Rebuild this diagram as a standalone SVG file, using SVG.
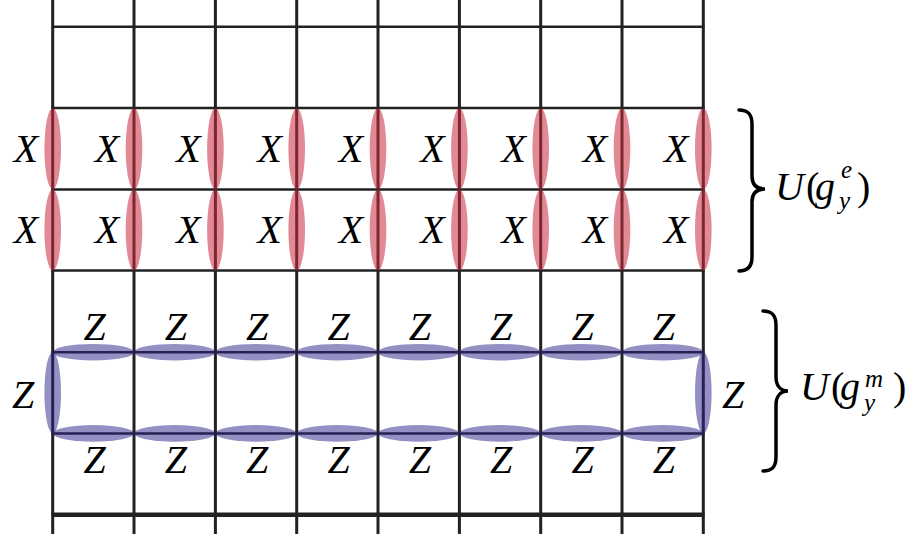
<svg xmlns="http://www.w3.org/2000/svg" width="909" height="539" viewBox="0 0 909 539">
<style>
.v{stroke:#222;stroke-width:3;fill:none}
.h{stroke:#222;stroke-width:2.5;fill:none}
.r{fill:#c8283c;fill-opacity:0.55}
.b{fill:#2a2288;fill-opacity:0.5}
.t{font-family:"Liberation Serif","Times New Roman",serif;font-style:italic;font-size:40px;fill:#000;text-anchor:middle}
.u{font-family:"Liberation Serif","Times New Roman",serif;font-size:40px;fill:#000}
.s{font-family:"Liberation Serif","Times New Roman",serif;font-style:italic;font-size:25px;fill:#000}
.brace{stroke:#000;stroke-width:3.5;fill:none;stroke-linecap:round}
</style>
<rect width="909" height="539" fill="#fff"/>
<g id="grid">
<path class="v" d="M52.7,0V534M134,0V534M215.4,0V534M296.7,0V534M378,0V534M459.4,0V534M540.7,0V534M622,0V534M703.3,0V534"/>
<path class="h" d="M51.5,26.7H704.5M51.5,108.1H704.5M51.5,189.4H704.5M51.5,270.4H704.5M51.5,352.2H704.5M51.5,433.4H704.5"/>
<path class="h" style="stroke-width:4.5" d="M51.5,514.8H704.5"/>
</g>
<g id="x-ops">
<ellipse class="r" cx="52.7" cy="148.8" rx="8.3" ry="40.6"/><ellipse class="r" cx="52.7" cy="229.9" rx="8.3" ry="40.6"/>
<ellipse class="r" cx="134" cy="148.8" rx="8.3" ry="40.6"/><ellipse class="r" cx="134" cy="229.9" rx="8.3" ry="40.6"/>
<ellipse class="r" cx="215.4" cy="148.8" rx="8.3" ry="40.6"/><ellipse class="r" cx="215.4" cy="229.9" rx="8.3" ry="40.6"/>
<ellipse class="r" cx="296.7" cy="148.8" rx="8.3" ry="40.6"/><ellipse class="r" cx="296.7" cy="229.9" rx="8.3" ry="40.6"/>
<ellipse class="r" cx="378" cy="148.8" rx="8.3" ry="40.6"/><ellipse class="r" cx="378" cy="229.9" rx="8.3" ry="40.6"/>
<ellipse class="r" cx="459.4" cy="148.8" rx="8.3" ry="40.6"/><ellipse class="r" cx="459.4" cy="229.9" rx="8.3" ry="40.6"/>
<ellipse class="r" cx="540.7" cy="148.8" rx="8.3" ry="40.6"/><ellipse class="r" cx="540.7" cy="229.9" rx="8.3" ry="40.6"/>
<ellipse class="r" cx="622" cy="148.8" rx="8.3" ry="40.6"/><ellipse class="r" cx="622" cy="229.9" rx="8.3" ry="40.6"/>
<ellipse class="r" cx="703.3" cy="148.8" rx="8.3" ry="40.6"/><ellipse class="r" cx="703.3" cy="229.9" rx="8.3" ry="40.6"/>
</g>
<g id="z-ops">
<ellipse class="b" cx="93.4" cy="352.2" rx="40.7" ry="8.3"/><ellipse class="b" cx="93.4" cy="433.4" rx="40.7" ry="8.3"/>
<ellipse class="b" cx="174.7" cy="352.2" rx="40.7" ry="8.3"/><ellipse class="b" cx="174.7" cy="433.4" rx="40.7" ry="8.3"/>
<ellipse class="b" cx="256" cy="352.2" rx="40.7" ry="8.3"/><ellipse class="b" cx="256" cy="433.4" rx="40.7" ry="8.3"/>
<ellipse class="b" cx="337.4" cy="352.2" rx="40.7" ry="8.3"/><ellipse class="b" cx="337.4" cy="433.4" rx="40.7" ry="8.3"/>
<ellipse class="b" cx="418.7" cy="352.2" rx="40.7" ry="8.3"/><ellipse class="b" cx="418.7" cy="433.4" rx="40.7" ry="8.3"/>
<ellipse class="b" cx="500" cy="352.2" rx="40.7" ry="8.3"/><ellipse class="b" cx="500" cy="433.4" rx="40.7" ry="8.3"/>
<ellipse class="b" cx="581.4" cy="352.2" rx="40.7" ry="8.3"/><ellipse class="b" cx="581.4" cy="433.4" rx="40.7" ry="8.3"/>
<ellipse class="b" cx="662.7" cy="352.2" rx="40.7" ry="8.3"/><ellipse class="b" cx="662.7" cy="433.4" rx="40.7" ry="8.3"/>
<ellipse class="b" cx="52.7" cy="392.8" rx="8.3" ry="40.6"/>
<ellipse class="b" cx="703.3" cy="392.8" rx="8.3" ry="40.6"/>
</g>
<g id="x-labels" class="t">
<text x="26" y="162">X</text><text x="26" y="243">X</text>
<text x="107" y="162">X</text><text x="107" y="243">X</text>
<text x="188.4" y="162">X</text><text x="188.4" y="243">X</text>
<text x="269.7" y="162">X</text><text x="269.7" y="243">X</text>
<text x="351" y="162">X</text><text x="351" y="243">X</text>
<text x="432.4" y="162">X</text><text x="432.4" y="243">X</text>
<text x="513.7" y="162">X</text><text x="513.7" y="243">X</text>
<text x="595" y="162">X</text><text x="595" y="243">X</text>
<text x="676.3" y="162">X</text><text x="676.3" y="243">X</text>
</g>
<g id="z-labels" class="t">
<text x="94.5" y="340">Z</text><text x="94.5" y="473">Z</text>
<text x="175.8" y="340">Z</text><text x="175.8" y="473">Z</text>
<text x="257.1" y="340">Z</text><text x="257.1" y="473">Z</text>
<text x="338.5" y="340">Z</text><text x="338.5" y="473">Z</text>
<text x="419.8" y="340">Z</text><text x="419.8" y="473">Z</text>
<text x="501.1" y="340">Z</text><text x="501.1" y="473">Z</text>
<text x="582.5" y="340">Z</text><text x="582.5" y="473">Z</text>
<text x="663.8" y="340">Z</text><text x="663.8" y="473">Z</text>
<text x="23" y="408">Z</text>
<text x="733" y="408">Z</text>
</g>
<g id="brace-e">
<path class="brace" d="M739,110 C748,110 752,114 752,124 L752,176 C752,184 756,189 765,189 C756,189 752,194 752,202 L752,257 C752,266 748,271 739,271"/>
<text class="u"><tspan x="775" y="200" font-style="italic">U</tspan><tspan x="806" y="200">(</tspan><tspan x="815" y="200" font-style="italic">g</tspan></text>
<text class="s" x="841" y="178">e</text>
<text class="s" x="839" y="209">y</text>
<text class="u" x="857" y="200">)</text>
</g>
<g id="brace-m">
<path class="brace" d="M763,311 C772,311 776,315 776,325 L776,377 C776,385 780,391 788,391 C780,391 776,397 776,405 L776,457 C776,467 772,471 763,471"/>
<text class="u"><tspan x="800" y="400" font-style="italic">U</tspan><tspan x="831" y="400">(</tspan><tspan x="840" y="400" font-style="italic">g</tspan></text>
<text class="s" x="865" y="387">m</text>
<text class="s" x="864" y="411">y</text>
<text class="u" x="893" y="400">)</text>
</g>
</svg>
